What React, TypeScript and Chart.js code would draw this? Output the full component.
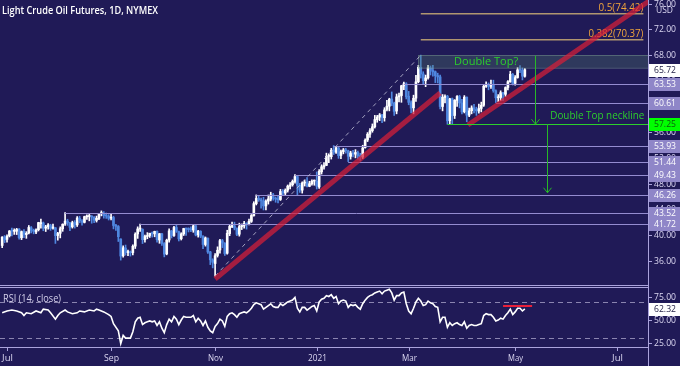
import React, { useEffect, useRef } from 'react';
import { Chart, registerables } from 'chart.js';

Chart.register(...registerables);

// ---------- data (daily bars, index 0 = 1 Jul 2020) ----------
const START_INDEX = -2;

const opens = [
  38.40, 39.74,
  39.35, 39.90, 40.70, 40.60, 40.62, 40.95, 39.60, 40.60, 40.10, 40.35, 41.15, 40.75, 40.50, 40.85, 41.80, 41.90, 41.10, 41.30, 41.50, 41.10, 41.15, 39.95,
  40.30, 41.00, 41.75, 42.20, 41.90, 41.30, 42.00, 41.60, 42.65, 42.20, 42.00, 42.85, 42.90, 42.95, 42.80, 42.30, 42.60, 43.35, 43.40, 43.05, 42.95,
  42.65, 42.75, 41.50, 41.35, 39.40, 36.80, 38.00, 37.30, 37.40, 37.30, 38.30, 40.20, 40.95, 40.90, 39.30, 39.80, 39.95, 40.30, 40.20, 40.60, 39.25,
  40.20, 38.70, 37.10, 39.25, 40.65, 39.95, 41.20, 40.55, 39.45, 40.20, 41.00, 40.90, 40.85, 40.80, 41.45, 40.05, 40.60, 39.80, 38.55, 39.50, 37.40, 36.15,
  35.60, 36.85, 37.70, 39.15, 38.75, 37.20, 40.25, 41.35, 41.45, 41.05, 40.15, 41.35, 41.45, 41.80, 41.75, 42.15, 43.05, 44.90, 45.70, 45.50,
  45.35, 44.55, 45.30, 45.60, 46.25, 45.75, 45.60, 45.55, 46.80, 46.55, 47.00, 47.60, 47.85, 48.35, 49.10, 47.75, 47.00, 48.10, 48.25, 47.60, 48.00, 48.40,
  48.40, 47.50, 49.85, 50.60, 50.85, 52.25, 52.20, 53.25, 52.90, 53.55, 52.40, 53.00, 53.25, 53.10, 52.25, 52.75, 52.60, 52.85, 52.35,
  52.15, 53.60, 54.80, 55.70, 56.25, 56.85, 57.95, 58.35, 58.70, 58.25, 59.55, 60.05, 61.15, 60.50, 59.30, 61.50, 61.70, 63.20, 63.50,
  61.60, 60.60, 59.80, 61.30, 63.85, 66.10, 65.05, 64.00, 64.45, 66.00, 65.60, 65.40, 64.80, 64.60, 60.00, 61.40, 61.60, 57.80, 61.20, 58.60, 60.95, 61.55, 60.55,
  59.20, 61.45, 58.65, 59.35, 59.80, 59.55, 59.30, 59.70, 60.20, 63.15, 63.45, 63.15, 63.40, 62.45, 61.35, 61.40, 62.15, 61.90, 62.95, 63.85, 65.00,
  63.60, 64.50, 65.70, 65.60, 64.70,
];

const highs = [
  39.77, 39.95,
  40.07, 40.73, 41.09, 40.99, 41.07, 41.04, 40.66, 40.89, 40.55, 41.51, 41.35, 40.95, 40.97, 42.01, 42.52, 42.05, 41.53, 41.80, 41.70, 41.71, 41.20, 40.46,
  41.29, 41.77, 43.52, 42.48, 42.00, 42.18, 42.27, 42.90, 42.94, 42.44, 42.96, 43.15, 43.40, 43.05, 42.89, 42.97, 43.38, 43.78, 43.66, 43.45, 43.20,
  43.40, 42.95, 41.70, 41.50, 39.45, 38.36, 38.47, 37.68, 37.55, 38.50, 40.38, 41.30, 41.72, 41.00, 40.00, 40.40, 40.30, 40.51, 40.63, 40.68, 40.28,
  40.30, 38.85, 39.39, 40.97, 40.75, 41.38, 41.56, 40.65, 40.38, 41.08, 41.10, 41.15, 41.30, 41.58, 41.62, 40.75, 40.70, 39.95, 39.73, 39.60, 37.49, 36.34,
  37.16, 38.19, 39.35, 39.35, 38.85, 40.77, 41.62, 42.05, 42.03, 41.15, 41.87, 41.75, 42.15, 41.90, 42.50, 43.22, 45.20, 46.26, 46.08, 45.75,
  45.89, 45.50, 46.25, 46.68, 46.49, 45.94, 46.04, 47.12, 47.10, 47.20, 47.80, 48.16, 48.59, 49.43, 49.15, 48.05, 48.28, 48.58, 48.96, 48.38, 48.59, 48.58,
  49.83, 50.20, 50.94, 51.28, 52.75, 52.65, 53.50, 53.93, 53.77, 53.64, 53.24, 53.48, 53.50, 53.21, 53.05, 53.20, 53.30, 53.08, 52.73,
  53.98, 54.96, 55.95, 56.57, 57.29, 58.62, 58.62, 58.91, 58.80, 59.82, 60.95, 61.28, 62.26, 60.68, 61.94, 62.07, 63.30, 63.81, 63.70,
  62.35, 60.88, 61.76, 64.86, 66.40, 67.98, 65.40, 64.88, 66.40, 66.30, 66.40, 65.52, 65.18, 64.87, 61.86, 61.80, 61.74, 61.28, 61.32, 61.07, 61.71, 61.75, 61.10,
  61.70, 61.49, 59.75, 60.11, 60.34, 59.90, 60.38, 60.68, 63.43, 63.85, 63.66, 64.09, 64.09, 62.59, 61.85, 62.44, 62.20, 63.06, 64.04, 65.47, 65.14,
  64.80, 66.04, 66.35, 66.00, 65.89,
];

const lows = [
  38.06, 38.85,
  38.93, 39.72, 39.88, 40.12, 40.10, 39.40, 39.31, 39.60, 39.51, 40.20, 40.35, 40.21, 40.25, 40.66, 41.10, 40.69, 40.57, 40.95, 40.75, 40.92, 38.72, 39.24,
  39.58, 40.60, 41.50, 41.53, 40.70, 41.10, 41.10, 41.35, 41.93, 41.54, 41.90, 42.44, 42.23, 41.86, 41.93, 42.04, 42.42, 43.00, 42.65, 42.61, 42.36,
  42.36, 40.98, 40.75, 39.02, 36.13, 36.60, 36.90, 36.80, 36.75, 36.95, 37.93, 39.50, 40.60, 38.70, 38.93, 39.45, 39.65, 39.70, 39.75, 38.90, 38.74,
  38.41, 36.63, 36.95, 38.93, 39.57, 39.80, 40.43, 39.10, 39.25, 39.95, 39.95, 40.50, 40.55, 40.45, 39.89, 39.70, 39.62, 37.90, 38.30, 37.15, 35.43, 34.92,
  33.64, 36.60, 37.20, 38.07, 36.85, 37.05, 39.92, 41.15, 40.83, 39.92, 39.85, 40.87, 41.09, 40.94, 41.60, 41.98, 42.95, 44.70, 45.25, 44.21,
  43.92, 43.93, 44.83, 45.33, 45.43, 45.12, 45.01, 45.40, 46.16, 46.14, 46.70, 47.18, 47.62, 48.08, 46.16, 46.65, 46.54, 47.64, 47.50, 47.53, 47.78, 47.76,
  47.18, 47.26, 49.50, 50.26, 50.81, 51.28, 51.83, 52.53, 52.70, 51.94, 51.90, 52.64, 52.75, 51.44, 51.82, 52.18, 52.02, 51.82, 51.62,
  51.91, 53.53, 54.55, 55.18, 56.00, 56.65, 57.55, 57.80, 57.50, 57.72, 59.31, 59.32, 60.12, 58.61, 58.86, 60.72, 60.65, 62.60, 61.17,
  60.27, 59.02, 58.86, 60.80, 63.68, 64.42, 63.41, 63.08, 64.23, 64.90, 64.73, 63.71, 63.66, 59.64, 59.32, 60.56, 57.25, 57.30, 57.32, 58.13, 60.01, 59.78, 58.86,
  59.00, 57.63, 58.42, 58.86, 58.99, 58.62, 58.97, 59.16, 60.01, 62.97, 62.59, 62.80, 62.21, 60.61, 60.74, 60.89, 60.91, 61.56, 62.56, 63.76, 63.34,
  63.30, 64.40, 65.24, 64.13, 64.55,
];

const closes = [
  39.70, 39.27,
  39.82, 40.65, 40.63, 40.62, 40.90, 39.62, 40.55, 40.10, 40.29, 41.20, 40.75, 40.59, 40.81, 41.96, 41.90, 41.07, 41.29, 41.60, 41.04, 41.27, 39.92, 40.27,
  41.01, 41.70, 42.19, 41.95, 41.22, 41.94, 41.61, 42.67, 42.24, 42.01, 42.89, 42.89, 42.93, 42.82, 42.34, 42.62, 43.35, 43.39, 43.04, 42.97, 42.61,
  42.76, 41.51, 41.37, 39.77, 36.76, 38.05, 37.30, 37.33, 37.26, 38.28, 40.16, 40.97, 41.11, 39.31, 39.80, 39.93, 40.31, 40.25, 40.60, 39.29, 40.22,
  38.72, 37.05, 39.22, 40.67, 39.95, 41.19, 40.60, 39.43, 40.20, 41.04, 40.96, 40.88, 40.83, 41.46, 40.03, 40.64, 39.85, 38.56, 39.57, 37.39, 36.17, 35.79,
  36.81, 37.66, 39.15, 38.79, 37.14, 40.29, 41.36, 41.45, 41.12, 40.13, 41.34, 41.43, 41.82, 41.74, 42.15, 43.06, 44.91, 45.71, 45.53, 45.34,
  44.55, 45.28, 45.64, 46.26, 45.76, 45.60, 45.52, 46.78, 46.57, 46.99, 47.62, 47.82, 48.36, 49.10, 47.74, 47.02, 48.12, 48.23, 47.62, 48.00, 48.40, 48.52,
  47.62, 49.93, 50.63, 50.83, 52.24, 52.25, 53.21, 52.91, 53.57, 52.36, 52.98, 53.24, 53.13, 52.27, 52.77, 52.61, 52.85, 52.34, 52.20,
  53.55, 54.76, 55.69, 56.23, 56.85, 57.97, 58.36, 58.68, 58.24, 59.47, 60.05, 61.14, 60.52, 59.24, 61.49, 61.67, 63.22, 63.53, 61.50,
  60.64, 59.75, 61.28, 63.83, 66.09, 65.05, 64.01, 64.44, 66.02, 65.61, 65.39, 64.80, 64.60, 60.00, 61.42, 61.55, 57.76, 61.18, 58.56, 60.97, 61.56, 60.55, 59.16,
  61.45, 58.65, 59.33, 59.77, 59.60, 59.32, 59.70, 60.18, 63.15, 63.46, 63.13, 63.38, 62.44, 61.35, 61.43, 62.14, 61.91, 62.94, 63.86, 65.01, 63.58,
  64.49, 65.69, 65.63, 64.71, 65.72,
];

// RSI (14, close): bar index / value
const rsiIndex = [
  -2, 0, 2, 4, 6, 7, 8, 10, 12, 14, 15, 17, 18, 20, 21, 22, 24, 25, 27, 29, 30, 32, 34, 36, 37, 38, 40, 42,
  43, 44, 46, 47, 48, 49, 50, 51, 52, 53, 54, 55, 56, 57, 58, 59, 60, 61, 62, 63,
  64, 65, 66, 67, 68, 69, 70, 71, 72, 73, 74, 75, 76, 77, 78, 79, 80, 81, 82, 83, 84, 85,
  86, 87, 88, 89, 90, 91, 92, 93, 94, 95, 96, 97, 98, 99, 100, 101, 102, 103, 104, 105,
  106, 107, 108, 109, 110, 111, 112, 113, 114, 115, 116, 117, 118, 119, 120, 121, 122, 123, 124, 125, 126, 127,
  128, 129, 130, 131, 132, 133, 134, 135, 136, 137, 138, 139, 140, 141, 142, 143, 144, 145, 146,
  147, 148, 149, 150, 151, 152, 153, 154, 155, 156, 157, 158, 159, 160, 161, 162, 163, 164, 165,
  166, 167, 168, 169, 170, 171, 172, 173, 174, 175, 176, 177, 178, 179, 180, 181, 182, 183, 184, 185, 186, 187, 188,
  189, 190, 191, 192, 193, 194, 195, 196, 197, 198, 199, 200, 201, 202, 203, 204, 205, 206, 207, 208, 209,
  210, 211, 212, 213, 214,
];
const rsiValue = [
  58, 60, 61, 60, 58, 55, 58, 57, 60, 58, 62, 61, 58, 51, 55, 58, 61, 59, 57, 58, 60, 59, 61, 60, 62, 61, 59, 56,
  54, 46, 38, 24, 33, 30, 30, 30, 37, 48, 52, 53, 45, 47, 48, 49, 48, 49, 44, 48,
  41, 36, 45, 51, 48, 54, 51, 45, 50, 54, 53, 53, 53, 55, 48, 52, 49, 44, 49, 42, 38, 36,
  43, 46, 51, 49, 43, 54, 57, 58, 56, 53, 57, 58, 59, 58, 60, 63, 67, 69, 68, 67,
  62, 64, 66, 68, 65, 64, 64, 68, 66, 68, 70, 71, 72, 75, 63, 59, 64, 64, 61, 63, 65, 66,
  60, 70, 73, 74, 77, 76, 78, 74, 76, 68, 71, 72, 71, 64, 67, 66, 67, 64, 62,
  68, 72, 75, 77, 78, 80, 81, 82, 79, 82, 83, 84, 80, 72, 77, 77, 80, 81, 68,
  60, 57, 63, 70, 74, 71, 66, 67, 71, 69, 68, 65, 64, 48, 53, 53, 42, 47, 44, 46, 47, 45, 44,
  48, 41, 44, 45, 44, 44, 45, 46, 55, 57, 56, 56, 53, 49, 50, 52, 51, 55, 58, 62, 56,
  59, 63, 63, 60, 62.32,
];
const rsiResistanceIndex = [205, 217];
const rsiResistanceValue = [65.5, 65.5];
const rsiBands = [70, 30];
const rsiTicks = [75, 50, 25];

// axes
const monthTickIndex = [0, 43, 86, 128, 166, 210, 252];
const monthTickLabel = ['Jul', 'Sep', 'Nov', '2021', 'Mar', 'May', 'Jul'];
const priceTicks = [76, 72, 68, 64, 60, 56, 52, 48, 44, 40, 36];

// drawings
const levelValues = [63.53, 60.61, 53.93, 51.44, 49.43, 46.26, 43.52, 41.72];
const levelStartIndex = [164, 202, 135, 141, 119, 103, 24, 55];
const necklineValue = 57.25;
const necklineStartIndex = 182;
const lastPrice = 65.72;
const fibValues = [70.37, 74.42];
const fibLabels = ['0.382(70.37)', '0.5(74.42)'];
const fibStartIndex = 171;
const fibEndIndex = 263;
const doubleTopBox = [170, 67.98, 66.0]; // start index, top, bottom
const trendA_X = [86, 179];
const trendA_Y = [33.2, 62.1];
const trendB_X = [190.5, 270];
const trendB_Y = [57.13, 77.6];
const channel_X = [86, 171];
const channel_Y = [33.64, 67.98];
const arrow1 = [218, 67.9, 57.25]; // index, from, to
const arrow2 = [223, 57.25, 46.6];
const doubleTopTextPos = [198, 67.0];
const necklineTextPos = [224.5, 58.55];

const X_MIN = -2.9;
const X_MAX = 264.9;
const PRICE_MIN = 32.26;
const PRICE_MAX = 76.55;
const RSI_MIN = 20.2;
const RSI_MAX = 86.5;

// styles
const BG = '#201a57';
const UP = '#ffffff';
const DOWN = '#4f87e0';
const LEVEL = '#948cd0';
const BORDER = '#aaa3dc';
const AXIS_TEXT = '#dcd8f2';
const LABEL_BOX = '#8f86c8';
const GREEN = '#2ccf2c';
const FONT = "'Open Sans', 'Noto Sans', sans-serif";

function fillBg(chart: any) {
  const ctx = chart.ctx;
  ctx.save();
  ctx.fillStyle = BG;
  ctx.fillRect(0, 0, chart.width, chart.height);
  ctx.restore();
}

function seg(ctx: CanvasRenderingContext2D, chart: any, xs: number[], ys: number[]) {
  const sx = chart.scales.x, sy = chart.scales.y;
  ctx.beginPath();
  ctx.moveTo(sx.getPixelForValue(xs[0]), sy.getPixelForValue(ys[0]));
  ctx.lineTo(sx.getPixelForValue(xs[1]), sy.getPixelForValue(ys[1]));
  ctx.stroke();
}

function axisLabel(ctx: CanvasRenderingContext2D, y: number, text: string, bg: string, fg: string) {
  ctx.fillStyle = bg;
  ctx.fillRect(649, Math.round(y) - 6, 31, 13);
  ctx.fillStyle = fg;
  ctx.font = `9.5px ${FONT}`;
  ctx.textAlign = 'left';
  ctx.textBaseline = 'middle';
  ctx.fillText(text, 654, Math.round(y) + 0.5, 22);
}

const pricePlugin = {
  id: 'pricePanel',
  beforeDraw(chart: any) {
    fillBg(chart);
  },
  afterDatasetsDraw(chart: any) {
    const ctx: CanvasRenderingContext2D = chart.ctx;
    const a = chart.chartArea;
    const sx = chart.scales.x, sy = chart.scales.y;
    ctx.save();
    ctx.beginPath();
    ctx.rect(a.left, a.top, a.right - a.left, a.bottom - a.top);
    ctx.clip();

    // double top box
    const bx = sx.getPixelForValue(doubleTopBox[0]);
    const by1 = sy.getPixelForValue(doubleTopBox[1]);
    const by2 = sy.getPixelForValue(doubleTopBox[2]);
    ctx.fillStyle = 'rgba(80,125,105,0.32)';
    ctx.fillRect(bx, by1, a.right - bx, by2 - by1);
    ctx.strokeStyle = 'rgba(130,165,150,0.45)';
    ctx.lineWidth = 1;
    ctx.strokeRect(Math.round(bx) + 0.5, Math.round(by1) + 0.5, a.right - bx + 2, by2 - by1);

    // horizontal levels
    ctx.strokeStyle = LEVEL;
    ctx.lineWidth = 1;
    levelValues.forEach((v, i) => {
      const y = Math.round(sy.getPixelForValue(v)) + 0.5;
      ctx.beginPath();
      ctx.moveTo(sx.getPixelForValue(levelStartIndex[i]), y);
      ctx.lineTo(a.right, y);
      ctx.stroke();
    });

    // fib levels
    ctx.strokeStyle = '#b09670';
    ctx.lineWidth = 1.5;
    ctx.font = `10px ${FONT}`;
    const fibWidths = [55, 45];
    fibValues.forEach((v, i) => {
      const y = sy.getPixelForValue(v);
      const x1 = sx.getPixelForValue(fibStartIndex);
      const x2 = sx.getPixelForValue(fibEndIndex);
      ctx.beginPath();
      ctx.moveTo(x1, y);
      ctx.lineTo(x2, y);
      ctx.stroke();
      ctx.fillStyle = '#f0a53c';
      ctx.textAlign = 'right';
      ctx.textBaseline = 'bottom';
      ctx.fillText(fibLabels[i], x2, y - 1, fibWidths[i]);
    });

    // dashed channel line
    ctx.strokeStyle = 'rgba(205,205,225,0.75)';
    ctx.lineWidth = 1;
    ctx.setLineDash([4, 4]);
    seg(ctx, chart, channel_X, channel_Y);
    ctx.setLineDash([]);

    // red trend lines
    ctx.strokeStyle = 'rgba(215,30,55,0.72)';
    ctx.lineWidth = 5;
    seg(ctx, chart, trendA_X, trendA_Y);
    seg(ctx, chart, trendB_X, trendB_Y);

    // neckline
    const ny = Math.round(sy.getPixelForValue(necklineValue)) + 0.5;
    ctx.strokeStyle = GREEN;
    ctx.lineWidth = 1.2;
    ctx.beginPath();
    ctx.moveTo(sx.getPixelForValue(necklineStartIndex), ny);
    ctx.lineTo(a.right, ny);
    ctx.stroke();

    // arrows
    ctx.strokeStyle = '#27b827';
    ctx.lineWidth = 1;
    [arrow1, arrow2].forEach((ar) => {
      const x = Math.round(sx.getPixelForValue(ar[0])) + 0.5;
      const y1 = sy.getPixelForValue(ar[1]);
      const y2 = sy.getPixelForValue(ar[2]);
      ctx.beginPath();
      ctx.moveTo(x, y1);
      ctx.lineTo(x, y2);
      ctx.moveTo(x - 4, y2 - 5);
      ctx.lineTo(x, y2);
      ctx.lineTo(x + 4, y2 - 5);
      ctx.stroke();
    });

    // texts
    ctx.fillStyle = GREEN;
    ctx.font = `11px ${FONT}`;
    ctx.textAlign = 'center';
    ctx.textBaseline = 'middle';
    ctx.fillText('Double Top?', sx.getPixelForValue(doubleTopTextPos[0]), sy.getPixelForValue(doubleTopTextPos[1]), 68);
    ctx.textAlign = 'left';
    ctx.fillText('Double Top neckline', sx.getPixelForValue(necklineTextPos[0]), sy.getPixelForValue(necklineTextPos[1]), 94);

    ctx.restore();
  },
  afterDraw(chart: any) {
    const ctx: CanvasRenderingContext2D = chart.ctx;
    const a = chart.chartArea;
    const sy = chart.scales.y;
    ctx.save();
    // borders
    ctx.strokeStyle = BORDER;
    ctx.lineWidth = 1;
    ctx.beginPath();
    ctx.moveTo(a.right + 0.5, 0);
    ctx.lineTo(a.right + 0.5, chart.height);
    ctx.moveTo(0, a.bottom + 0.5);
    ctx.lineTo(a.right, a.bottom + 0.5);
    ctx.stroke();

    // ticks
    ctx.font = `9.5px ${FONT}`;
    ctx.fillStyle = AXIS_TEXT;
    ctx.textAlign = 'left';
    ctx.textBaseline = 'middle';
    priceTicks.forEach((t) => {
      const y = Math.round(sy.getPixelForValue(t)) + 0.5;
      ctx.beginPath();
      ctx.moveTo(a.right, y);
      ctx.lineTo(a.right + 4, y);
      ctx.stroke();
      ctx.fillText(t.toFixed(2), 654, y, 22);
    });
    ctx.fillText('USD', 656, 10, 17);

    // level labels
    levelValues.forEach((v) => axisLabel(ctx, sy.getPixelForValue(v), v.toFixed(2), LABEL_BOX, '#ffffff'));
    axisLabel(ctx, sy.getPixelForValue(necklineValue), necklineValue.toFixed(2), '#00ff00', '#0b5e0b');
    axisLabel(ctx, sy.getPixelForValue(lastPrice), lastPrice.toFixed(2), '#ffffff', '#1c1a40');

    // title
    ctx.fillStyle = '#ffffff';
    ctx.font = `600 10.5px ${FONT}`;
    ctx.textAlign = 'left';
    ctx.textBaseline = 'middle';
    ctx.fillText('Light Crude Oil Futures, 1D, NYMEX', 2, 11, 156);
    ctx.restore();
  },
};

const rsiPlugin = {
  id: 'rsiPanel',
  beforeDraw(chart: any) {
    fillBg(chart);
  },
  beforeDatasetsDraw(chart: any) {
    const ctx: CanvasRenderingContext2D = chart.ctx;
    const a = chart.chartArea;
    const sy = chart.scales.y;
    ctx.save();
    ctx.strokeStyle = 'rgba(175,170,205,0.75)';
    ctx.lineWidth = 1;
    ctx.setLineDash([5, 4]);
    rsiBands.forEach((b) => {
      const y = Math.round(sy.getPixelForValue(b)) + 0.5;
      ctx.beginPath();
      ctx.moveTo(a.left, y);
      ctx.lineTo(a.right, y);
      ctx.stroke();
    });
    ctx.restore();
  },
  afterDraw(chart: any) {
    const ctx: CanvasRenderingContext2D = chart.ctx;
    const a = chart.chartArea;
    const sx = chart.scales.x, sy = chart.scales.y;
    ctx.save();
    ctx.strokeStyle = BORDER;
    ctx.lineWidth = 1;
    ctx.beginPath();
    ctx.moveTo(0, a.top + 0.5);
    ctx.lineTo(a.right, a.top + 0.5);
    ctx.moveTo(0, a.bottom + 0.5);
    ctx.lineTo(a.right, a.bottom + 0.5);
    ctx.moveTo(a.right + 0.5, 0);
    ctx.lineTo(a.right + 0.5, chart.height);
    ctx.stroke();

    ctx.font = `9.5px ${FONT}`;
    ctx.fillStyle = AXIS_TEXT;
    ctx.textBaseline = 'middle';
    ctx.textAlign = 'left';
    rsiTicks.forEach((t) => {
      const y = Math.round(sy.getPixelForValue(t)) + 0.5;
      ctx.beginPath();
      ctx.moveTo(a.right, y);
      ctx.lineTo(a.right + 4, y);
      ctx.stroke();
      ctx.fillText(t.toFixed(2), 654, y, 22);
    });
    const last = rsiValue[rsiValue.length - 1];
    axisLabel(ctx, sy.getPixelForValue(last), last.toFixed(2), '#ffffff', '#1c1a40');

    ctx.fillStyle = '#d4d0ea';
    ctx.font = `10px ${FONT}`;
    ctx.textAlign = 'left';
    ctx.fillText('RSI (14, close)', 3, a.top + 12, 58);

    // month axis
    ctx.fillStyle = AXIS_TEXT;
    ctx.font = `9.5px ${FONT}`;
    ctx.textAlign = 'center';
    monthTickIndex.forEach((m, i) => {
      const x = Math.round(sx.getPixelForValue(m)) + 0.5;
      ctx.beginPath();
      ctx.moveTo(x, a.bottom + 1);
      ctx.lineTo(x, a.bottom + 4);
      ctx.stroke();
      ctx.fillText(monthTickLabel[i], x, a.bottom + 11, monthTickLabel[i].length > 3 ? 19 : 15);
    });
    ctx.restore();
  },
};

export default function App() {
  const priceRef = useRef<HTMLCanvasElement>(null);
  const rsiRef = useRef<HTMLCanvasElement>(null);

  useEffect(() => {
    const xs = closes.map((_, i) => START_INDEX + i);
    const colors = closes.map((c, i) => (c >= opens[i] ? UP : DOWN));
    const wicks = xs.map((x, i) => ({ x, y: [lows[i], highs[i]] }));
    const bodies = xs.map((x, i) => ({ x, y: [Math.min(opens[i], closes[i]), Math.max(opens[i], closes[i])] }));

    const price = new Chart(priceRef.current as HTMLCanvasElement, {
      type: 'bar',
      data: {
        datasets: [
          { data: wicks as any, backgroundColor: colors, barThickness: 1, grouped: false, minBarLength: 1, borderWidth: 0 } as any,
          { data: bodies as any, backgroundColor: colors, barThickness: 2, grouped: false, minBarLength: 1, borderWidth: 0 } as any,
        ],
      },
      options: {
        animation: false,
        responsive: false,
        maintainAspectRatio: false,
        events: [],
        layout: { padding: { left: 0, right: 32, top: 0, bottom: 1 } },
        plugins: { legend: { display: false }, tooltip: { enabled: false }, title: { display: false } },
        scales: {
          x: { type: 'linear', display: false, min: X_MIN, max: X_MAX, offset: false },
          y: { type: 'linear', display: false, min: PRICE_MIN, max: PRICE_MAX },
        },
      },
      plugins: [pricePlugin],
    });

    const rsi = new Chart(rsiRef.current as HTMLCanvasElement, {
      type: 'line',
      data: {
        datasets: [
          {
            data: rsiIndex.map((x, i) => ({ x, y: rsiValue[i] })),
            borderColor: '#ffffff',
            borderWidth: 1.6,
            pointRadius: 0,
            tension: 0,
          },
          {
            data: rsiResistanceIndex.map((x, i) => ({ x, y: rsiResistanceValue[i] })),
            borderColor: '#e8203a',
            borderWidth: 2,
            pointRadius: 0,
          },
        ],
      },
      options: {
        animation: false,
        responsive: false,
        maintainAspectRatio: false,
        events: [],
        layout: { padding: { left: 0, right: 32, top: 1, bottom: 19 } },
        plugins: { legend: { display: false }, tooltip: { enabled: false } },
        scales: {
          x: { type: 'linear', display: false, min: X_MIN, max: X_MAX },
          y: { type: 'linear', display: false, min: RSI_MIN, max: RSI_MAX },
        },
      },
      plugins: [rsiPlugin],
    });

    return () => {
      price.destroy();
      rsi.destroy();
    };
  }, []);

  return (
    <div style={{ position: 'relative', width: 680, height: 366, background: BG, overflow: 'hidden' }}>
      <style>{`html,body{margin:0;padding:0;background:${BG};}`}</style>
      <canvas ref={priceRef} width={680} height={286} style={{ position: 'absolute', left: 0, top: 0, width: 680, height: 286 }} />
      <canvas ref={rsiRef} width={680} height={80} style={{ position: 'absolute', left: 0, top: 286, width: 680, height: 80 }} />
    </div>
  );
}
